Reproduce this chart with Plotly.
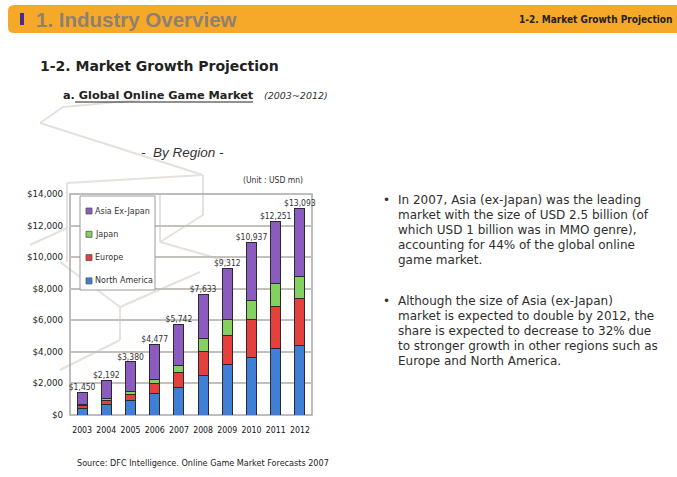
import plotly.graph_objects as go

W, H = 677, 477

years = ["2003", "2004", "2005", "2006", "2007", "2008", "2009", "2010", "2011", "2012"]
north_america = [400, 640, 950, 1340, 1760, 2480, 3180, 3670, 4200, 4410]
europe = [200, 280, 330, 640, 930, 1550, 1860, 2370, 2690, 2950]
japan = [50, 120, 200, 250, 430, 800, 1000, 1230, 1440, 1440]
asia_ex_japan = [800, 1152, 1900, 2247, 2622, 2803, 3272, 3667, 3921, 4293]
totals = [1450, 2192, 3380, 4477, 5742, 7633, 9312, 10937, 12251, 13093]
y_ticks = [0, 2000, 4000, 6000, 8000, 10000, 12000, 14000]

bullet1 = ["In 2007, Asia (ex-Japan) was the leading",
           "market with the size of USD 2.5 billion (of",
           "which USD 1 billion was in MMO genre),",
           "accounting for 44% of the global online",
           "game market."]
bullet2 = ["Although the size of Asia (ex-Japan)",
           "market is expected to double by 2012, the",
           "share is expected to decrease to 32% due",
           "to stronger growth in other regions such as",
           "Europe and North America."]


def px(x):
    return x / W


def py(y):
    return 1 - y / H


fig = go.Figure()
series = [("North America", north_america, "#3f80d6"),
          ("Europe", europe, "#e3403e"),
          ("Japan", japan, "#84d161"),
          ("Asia Ex-Japan", asia_ex_japan, "#8a5cbf")]
for name, vals, col in series:
    fig.add_trace(go.Bar(x=years, y=vals, name=name, showlegend=False,
                         marker=dict(color=col, line=dict(color="#2a2a2a", width=1))))

fig.add_trace(go.Scatter(x=years, y=totals, mode="text",
                         text=["$" + format(v, ",") for v in totals],
                         textposition="top center",
                         textfont=dict(family="DejaVu Sans Condensed", size=8.5, color="#333"),
                         showlegend=False, hoverinfo="skip", cliponaxis=False))

shapes = []
# header band with rounded left corners
y0h, y1h, xl, r = 5, 33, 8, 6
path = (f"M {px(xl + r)},{py(y0h)} L {px(690)},{py(y0h)} L {px(690)},{py(y1h)} "
        f"L {px(xl + r)},{py(y1h)} Q {px(xl)},{py(y1h)} {px(xl)},{py(y1h - r)} "
        f"L {px(xl)},{py(y0h + r)} Q {px(xl)},{py(y0h)} {px(xl + r)},{py(y0h)} Z")
shapes.append(dict(type="path", xref="paper", yref="paper", path=path,
                   fillcolor="#f6a928", line=dict(width=0), layer="below"))
shapes.append(dict(type="rect", xref="paper", yref="paper", x0=px(20), x1=px(24), y0=py(25), y1=py(13),
                   fillcolor="#4a2c8c", line=dict(width=0)))
# faint background wireframe
bg_lines = [((40, 123), (63, 107)), ((40, 123), (203, 175)), ((63, 107), (140, 100)),
            ((67, 183), (203, 175)), ((203, 175), (203, 215)), ((203, 215), (160, 242)),
            ((160, 195), (160, 242)), ((67, 183), (67, 262)), ((30, 245), (67, 228)),
            ((60, 262), (120, 307)), ((120, 307), (200, 272)), ((120, 307), (120, 340)),
            ((120, 340), (60, 370)), ((160, 242), (230, 262))]
for (x0, y0), (x1, y1) in bg_lines:
    shapes.append(dict(type="line", xref="paper", yref="paper", x0=px(x0), y0=py(y0), x1=px(x1), y1=py(y1),
                       line=dict(color="#e6e1dc", width=2), layer="below"))
# plot border
shapes.append(dict(type="rect", xref="paper", yref="paper", x0=px(70), x1=px(312), y0=py(415), y1=py(194),
                   line=dict(color="#a8a8a8", width=1.5), layer="below"))
# underline of subtitle
shapes.append(dict(type="line", xref="paper", yref="paper", x0=px(75), x1=px(253), y0=py(102), y1=py(102),
                   line=dict(color="#222", width=1.2)))

ann = []
ann.append(dict(text="<b>1. Industry Overview</b>", x=px(34), y=py(19), xanchor="left", yanchor="middle",
                font=dict(family="Liberation Sans", size=20.5, color="#8f8070"), showarrow=False,
                xref="paper", yref="paper"))
ann.append(dict(text="<b>1-2. Market Growth Projection</b>", x=px(674), y=py(19), xanchor="right", yanchor="middle",
                font=dict(family="DejaVu Sans Condensed", size=10, color="#222"), showarrow=False,
                xref="paper", yref="paper"))
ann.append(dict(text="<b>1-2. Market Growth Projection</b>", x=px(38), y=py(66), xanchor="left", yanchor="middle",
                font=dict(family="DejaVu Sans", size=14, color="#222"), showarrow=False,
                xref="paper", yref="paper"))
ann.append(dict(text="<b>a. Global Online Game Market</b>", x=px(61), y=py(95), xanchor="left", yanchor="middle",
                font=dict(family="DejaVu Sans", size=11.3, color="#222"), showarrow=False,
                xref="paper", yref="paper"))
ann.append(dict(text="<i>(2003~2012)</i>", x=px(262), y=py(95), xanchor="left", yanchor="middle",
                font=dict(family="DejaVu Sans", size=9.5, color="#333"), showarrow=False,
                xref="paper", yref="paper"))
ann.append(dict(text="<i>-  By Region -</i>", x=px(183), y=py(153), xanchor="center", yanchor="middle",
                font=dict(family="Liberation Sans", size=13.5, color="#333"), showarrow=False,
                xref="paper", yref="paper"))
ann.append(dict(text="(Unit : USD mn)", x=px(305), y=py(180), xanchor="right", yanchor="middle",
                font=dict(family="DejaVu Sans Condensed", size=8.5, color="#333"), showarrow=False,
                xref="paper", yref="paper"))
ann.append(dict(text="Source: DFC Intelligence. Online Game Market Forecasts 2007", x=px(75), y=py(463),
                xanchor="left", yanchor="middle",
                font=dict(family="DejaVu Sans Condensed", size=9, color="#222"), showarrow=False,
                xref="paper", yref="paper"))
for top, lines in [(200, bullet1), (301, bullet2)]:
    ann.append(dict(text="•", x=px(381), y=py(top), xanchor="left", yanchor="middle",
                    font=dict(family="DejaVu Sans", size=12, color="#333"), showarrow=False,
                    xref="paper", yref="paper"))
    for i, line in enumerate(lines):
        ann.append(dict(text=line, x=px(396), y=py(top + 15 * i), xanchor="left", yanchor="middle",
                        align="left", font=dict(family="DejaVu Sans", size=12, color="#2e2e2e"),
                        showarrow=False, xref="paper", yref="paper"))

# manual legend (box, swatches, labels) built from the series list
shapes.append(dict(type="rect", xref="paper", yref="paper", x0=px(80), x1=px(155), y0=py(290), y1=py(196),
                   fillcolor="white", line=dict(color="#9a9a9a", width=1)))
for i, (name, vals, col) in enumerate(reversed(series)):
    yc = 211 + 23.3 * i
    shapes.append(dict(type="rect", xref="paper", yref="paper", x0=px(86), x1=px(92),
                       y0=py(yc + 3), y1=py(yc - 3), fillcolor=col, line=dict(color="#555", width=0.8)))
    ann.append(dict(text=name, x=px(93), y=py(yc), xanchor="left", yanchor="middle",
                    font=dict(family="DejaVu Sans", size=8, color="#333"), showarrow=False,
                    xref="paper", yref="paper"))

fig.update_layout(
    width=W, height=H, margin=dict(l=0, r=0, t=0, b=0, autoexpand=False),
    paper_bgcolor="white", plot_bgcolor="rgba(0,0,0,0)",
    barmode="stack", bargap=0.58,
    shapes=shapes, annotations=ann,
    showlegend=False,
    xaxis=dict(domain=[px(70), px(312)], showgrid=False, showline=False, ticks="", automargin=False,
               ticklabelstandoff=8,
               tickfont=dict(family="DejaVu Sans Condensed", size=8.7, color="#111")),
    yaxis=dict(domain=[py(415), py(194)], range=[0, 14000], tickvals=y_ticks, automargin=False,
               ticktext=["$" + format(v, ",") for v in y_ticks],
               showgrid=True, gridcolor="#c4c0bc", gridwidth=1.5, zeroline=False, showline=False,
               ticks="", ticklabelstandoff=6,
               tickfont=dict(family="DejaVu Sans", size=8.7, color="#222")),
)

fig.write_html("out.html")
